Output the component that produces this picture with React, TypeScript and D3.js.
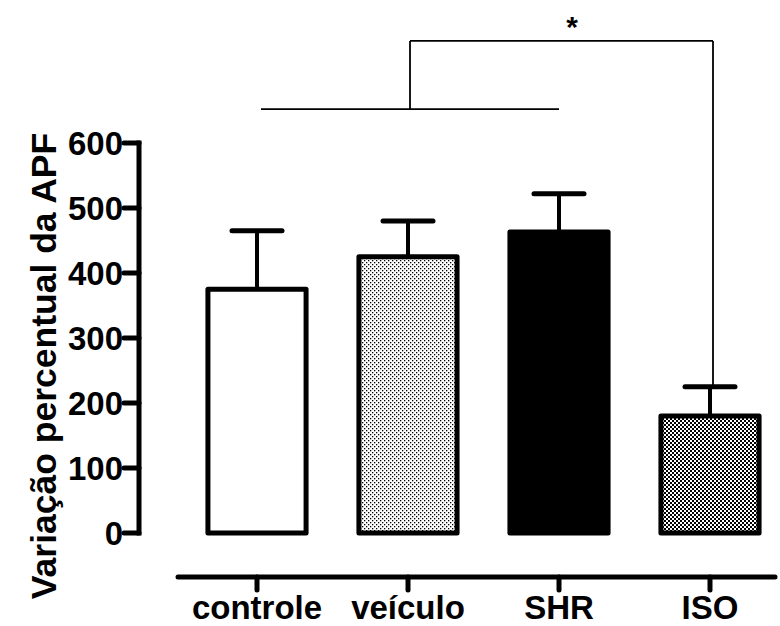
import { useEffect, useRef } from "react";
import * as d3 from "d3";

const categories = ["controle", "veículo", "SHR", "ISO"];
const means = [375, 425, 463, 180];
const errors = [90, 55, 59, 45];
const yTicks = [0, 100, 200, 300, 400, 500, 600];
const fills = ["white", "url(#dots)", "black", "url(#checker)"];

export default function App() {
  const svgRef = useRef<SVGSVGElement>(null);

  useEffect(() => {
    if (!svgRef.current) return;
    const width = 780;
    const height = 626;
    const font = "'Liberation Sans', Arial, sans-serif";

    const svg = d3.select(svgRef.current);
    svg.selectAll("*").remove();
    svg.attr("width", width).attr("height", height);

    // fill patterns
    const defs = svg.append("defs");
    const dots = defs
      .append("pattern")
      .attr("id", "dots")
      .attr("patternUnits", "userSpaceOnUse")
      .attr("width", 4)
      .attr("height", 4);
    dots.append("rect").attr("width", 4).attr("height", 4).attr("fill", "white");
    dots.append("rect").attr("x", 0).attr("y", 0).attr("width", 1.3).attr("height", 1.3).attr("fill", "black");
    dots.append("rect").attr("x", 2).attr("y", 2).attr("width", 1.3).attr("height", 1.3).attr("fill", "black");

    const checker = defs
      .append("pattern")
      .attr("id", "checker")
      .attr("patternUnits", "userSpaceOnUse")
      .attr("width", 4)
      .attr("height", 4);
    checker.append("rect").attr("width", 4).attr("height", 4).attr("fill", "white");
    checker.append("rect").attr("x", 0).attr("y", 0).attr("width", 2).attr("height", 2).attr("fill", "black");
    checker.append("rect").attr("x", 2).attr("y", 2).attr("width", 2).attr("height", 2).attr("fill", "black");

    const x = d3
      .scaleBand<string>()
      .domain(categories)
      .range([181.5, 785.5])
      .paddingInner(0.35)
      .paddingOuter(0.175);
    const y = d3.scaleLinear().domain([0, 600]).range([533, 143]);
    const cx = (c: string) => (x(c) as number) + x.bandwidth() / 2;

    const axisX = 139;
    const baseY = 577;

    // y axis
    svg
      .append("line")
      .attr("x1", axisX)
      .attr("x2", axisX)
      .attr("y1", y(600) - 2.5)
      .attr("y2", y(0) + 2.5)
      .attr("stroke", "black")
      .attr("stroke-width", 5);
    const yt = svg.append("g");
    yTicks.forEach((t) => {
      yt.append("line")
        .attr("x1", axisX - 15)
        .attr("x2", axisX)
        .attr("y1", y(t))
        .attr("y2", y(t))
        .attr("stroke", "black")
        .attr("stroke-width", 5)
        .attr("stroke-linecap", "round");
      yt.append("text")
        .attr("x", axisX - 16)
        .attr("y", y(t))
        .attr("dy", "0.36em")
        .attr("text-anchor", "end")
        .style("font-family", font)
        .style("font-weight", "bold")
        .style("font-size", "33px")
        .text(t);
    });

    // y label
    svg
      .append("text")
      .attr("transform", `translate(56, ${366}) rotate(-90)`)
      .attr("text-anchor", "middle")
      .style("font-family", font)
      .style("font-weight", "bold")
      .style("font-size", "35.5px")
      .text("Variação percentual da APF");

    // x axis
    svg
      .append("line")
      .attr("x1", 178)
      .attr("x2", 775)
      .attr("y1", baseY)
      .attr("y2", baseY)
      .attr("stroke", "black")
      .attr("stroke-width", 5)
      .attr("stroke-linecap", "round");
    categories.forEach((c) => {
      svg
        .append("line")
        .attr("x1", cx(c))
        .attr("x2", cx(c))
        .attr("y1", baseY)
        .attr("y2", baseY + 13)
        .attr("stroke", "black")
        .attr("stroke-width", 5)
        .attr("stroke-linecap", "round");
      svg
        .append("text")
        .attr("x", cx(c))
        .attr("y", 619)
        .attr("text-anchor", "middle")
        .style("font-family", font)
        .style("font-weight", "bold")
        .style("font-size", "33px")
        .text(c);
    });

    // error bars
    categories.forEach((c, i) => {
      const top = y(means[i] + errors[i]);
      svg
        .append("line")
        .attr("x1", cx(c))
        .attr("x2", cx(c))
        .attr("y1", y(means[i]))
        .attr("y2", top)
        .attr("stroke", "black")
        .attr("stroke-width", 4);
      svg
        .append("line")
        .attr("x1", cx(c) - 25)
        .attr("x2", cx(c) + 25)
        .attr("y1", top)
        .attr("y2", top)
        .attr("stroke", "black")
        .attr("stroke-width", 5)
        .attr("stroke-linecap", "round");
    });

    // bars
    svg
      .selectAll(".bar")
      .data(categories)
      .enter()
      .append("rect")
      .attr("class", "bar")
      .attr("x", (d) => x(d) as number)
      .attr("width", x.bandwidth())
      .attr("y", (_d, i) => y(means[i]))
      .attr("height", (_d, i) => y(0) - y(means[i]))
      .attr("fill", (_d, i) => fills[i])
      .attr("stroke", "black")
      .attr("stroke-width", 5)
      .attr("stroke-linejoin", "round");

    // significance bracket
    const lowY = y(652);
    const highY = y(757);
    const thin = (x1: number, y1: number, x2: number, y2: number) =>
      svg
        .append("line")
        .attr("x1", x1)
        .attr("y1", y1)
        .attr("x2", x2)
        .attr("y2", y2)
        .attr("stroke", "black")
        .attr("stroke-width", 1.8);
    thin(cx("controle") + 4, lowY, cx("SHR"), lowY);
    const midX = cx("veículo") + 2;
    thin(midX, lowY, midX, highY);
    thin(midX, highY, cx("ISO") + 3, highY);
    thin(cx("ISO") + 3, highY, cx("ISO") + 3, y(means[3] + errors[3]));

    svg
      .append("text")
      .attr("x", 572)
      .attr("y", 37)
      .attr("text-anchor", "middle")
      .style("font-family", font)
      .style("font-weight", "bold")
      .style("font-size", "30px")
      .text("*");
  }, []);

  return (
    <svg
      ref={svgRef}
      style={{ position: "absolute", left: 0, top: 0, display: "block" }}
    />
  );
}
